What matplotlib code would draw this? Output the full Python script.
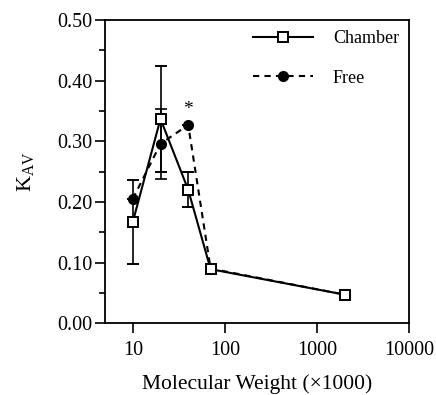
import numpy as np
import matplotlib.pyplot as plt
from matplotlib.lines import Line2D

plt.rcParams['font.family'] = ['Liberation Serif', 'DejaVu Serif']
plt.rcParams['mathtext.fontset'] = 'custom'
plt.rcParams['mathtext.rm'] = 'Liberation Serif'
plt.rcParams['mathtext.it'] = 'Liberation Serif'

# Data
mw = [10, 20, 40, 70, 2000]
chamber_kav = [0.167, 0.337, 0.220, 0.089, 0.047]
chamber_err = [0.070, 0.088, 0.029, 0.0, 0.0]
free_kav = [0.205, 0.296, 0.327, 0.090, 0.047]
free_err = [0.0, 0.058, 0.0, 0.0, 0.0]

fig = plt.figure(figsize=(4.36, 3.95), dpi=100)
ax = fig.add_axes([0.241, 0.182, 0.697, 0.767])

# Free (dashed, filled circles)
ax.errorbar(mw, free_kav, yerr=free_err, color='black', ls=(0, (3, 2.5)), lw=1.5,
            marker='o', ms=7, mfc='black', mec='black', capsize=4, elinewidth=1.2,
            capthick=1.2, zorder=2)
# Chamber (solid, open squares)
ax.errorbar(mw, chamber_kav, yerr=chamber_err, color='black', ls='-', lw=1.5,
            marker='s', ms=7, mfc='white', mec='black', mew=1.4, capsize=4,
            elinewidth=1.2, capthick=1.2, zorder=3)

ax.text(40, 0.338, '*', ha='center', va='bottom', fontsize=14)

ax.set_xscale('log')
ax.set_xlim(5, 10000)
ax.set_ylim(0, 0.5)
ax.set_xticks([10, 100, 1000, 10000])
ax.set_xticklabels(['10', '100', '1000', '10000'])
ax.xaxis.set_minor_locator(plt.NullLocator())
ax.set_yticks(np.arange(0, 0.51, 0.1))
ax.set_yticklabels(['%.2f' % v for v in np.arange(0, 0.51, 0.1)])
ax.set_yticks(np.arange(0.05, 0.5, 0.1), minor=True)

ax.tick_params(axis='both', which='major', direction='out', length=7, width=1.2,
               labelsize=14.5)
ax.tick_params(axis='y', which='minor', direction='out', length=4, width=1.2)
ax.tick_params(axis='x', pad=6)
ax.tick_params(axis='y', pad=2)
for s in ax.spines.values():
    s.set_linewidth(1.3)

ax.set_xlabel('Molecular Weight (\u00d71000)', fontsize=15.5, labelpad=10)
ax.set_ylabel('K$_{\\mathrm{AV}}$', fontsize=16, labelpad=15)

handles = [
    Line2D([], [], color='black', ls='-', lw=1.5, marker='s', ms=7,
           mfc='white', mec='black', mew=1.4),
    Line2D([], [], color='black', ls=(0, (3, 2.5)), lw=1.5, marker='o', ms=7,
           mfc='black', mec='black'),
]
ax.legend(handles, ['Chamber', 'Free'], loc='upper right', frameon=False,
          fontsize=13, handlelength=3.3, handletextpad=1.1, labelspacing=1.25,
          borderaxespad=0.1, borderpad=0.45)

fig.savefig('out.png', dpi=100)
